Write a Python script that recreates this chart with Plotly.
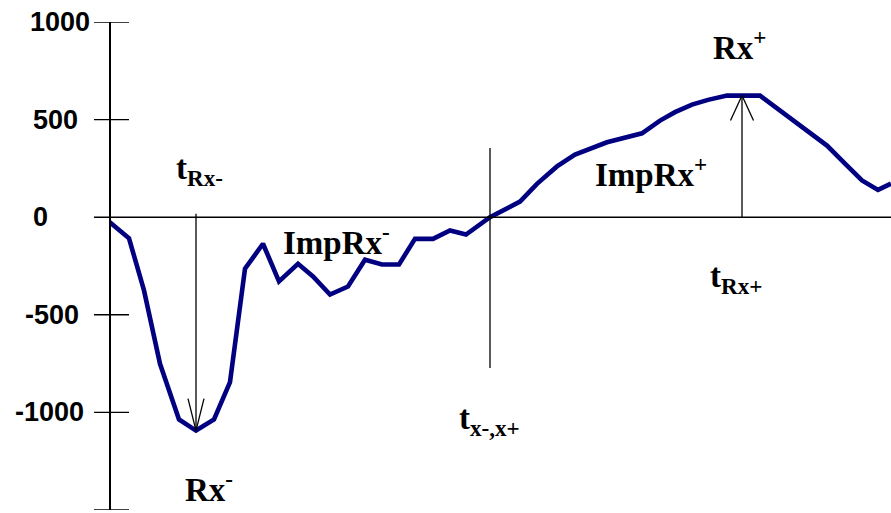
import plotly.graph_objects as go

# ---- data ----
t = [-2, 18, 33, 49, 68, 85, 103, 119, 134, 152, 168, 187, 202, 219, 237, 254, 271, 288,
     304, 322, 339, 355, 379, 409, 426, 446, 464, 479, 496, 531, 549, 564, 581, 597, 616,
     649, 676, 697, 716, 734, 751, 767, 780]
rx = [-22, -108, -375, -751, -1036, -1093, -1036, -845, -264, -136, -329, -239, -304, -396,
      -355, -218, -242, -242, -111, -111, -68, -89, 0, 80, 171, 260, 321, 350, 384, 430,
      495, 538, 577, 601, 623, 623, 521, 435, 367, 274, 188, 140, 172]

tick_vals = [1000, 500, 0, -500, -1000, -1500]
tick_text = ["1000", "500", "0", "-500", "-1000", ""]

t_min = 85          # time of Rx-
v_min = -1093       # Rx-
t_cross = 379       # t x-,x+
t_peak = 631        # time of Rx+
v_peak = 623        # Rx+

# ---- layout constants ----
W, H = 891, 513
ML, MR, MT, MB = 111, 0, 22, 3
X_RANGE = [0, 780]
Y_RANGE = [-1500, 1000]
PLOT_W = W - ML - MR
label_centers_px = [60, 55, 40, 52, 49, 0]   # tick label centers (page px)

NAVY = "#000080"
SERIF = "Liberation Serif, Times New Roman, serif"
SANS = "Liberation Sans, Arial, sans-serif"

fig = go.Figure()
fig.add_trace(go.Scatter(x=t, y=rx, mode="lines",
                         line=dict(color=NAVY, width=4.6), hoverinfo="skip"))

def px2paper(px):
    return (px - ML) / PLOT_W

shapes = []
# zero line extending left of the axis
shapes.append(dict(type="line", xref="paper", yref="y", x0=px2paper(94), x1=1, y0=0, y1=0,
                   line=dict(color="black", width=1.4)))
# crossing tick marks
for v in tick_vals:
    if v == 0:
        continue
    shapes.append(dict(type="line", xref="paper", yref="y", x0=px2paper(94), x1=px2paper(129),
                       y0=v, y1=v, line=dict(color="black", width=1.4)))
# vertical marker lines
shapes.append(dict(type="line", xref="x", yref="y", x0=t_min, x1=t_min, y0=18, y1=v_min,
                   line=dict(color="black", width=1.3)))
shapes.append(dict(type="line", xref="x", yref="y", x0=t_cross, x1=t_cross, y0=354, y1=-773,
                   line=dict(color="black", width=1.3)))
shapes.append(dict(type="line", xref="x", yref="y", x0=t_peak, x1=t_peak, y0=0, y1=v_peak,
                   line=dict(color="black", width=1.3)))
# arrow heads (open V), in pixel offsets from the tips
for dx in (-8, 8):
    shapes.append(dict(type="line", xref="x", yref="y", xsizemode="pixel", ysizemode="pixel",
                       xanchor=t_min, yanchor=v_min, x0=dx, y0=32, x1=0, y1=0,
                       line=dict(color="black", width=1.3)))
for dx in (-11.5, 11.5):
    shapes.append(dict(type="line", xref="x", yref="y", xsizemode="pixel", ysizemode="pixel",
                       xanchor=t_peak, yanchor=v_peak, x0=dx, y0=-25, x1=0, y1=0,
                       line=dict(color="black", width=1.3)))

annotations = []
for v, txt, cx in zip(tick_vals, tick_text, label_centers_px):
    if not txt:
        continue
    annotations.append(dict(xref="paper", yref="y", x=0, y=v, xshift=cx - ML, text=f"<b>{txt}</b>",
                            showarrow=False, xanchor="center", yanchor="middle",
                            font=dict(family=SANS, size=27, color="black")))

labels = [
    ("t<sub>Rx-</sub>", 88, 240),
    ("ImpRx<sup>-</sup>", 225, -117),
    ("Rx<sup>-</sup>", 98, -1383),
    ("t<sub>x-,x+</sub>", 378, -1040),
    ("Rx<sup>+</sup>", 629, 882),
    ("ImpRx<sup>+</sup>", 540, 231),
    ("t<sub>Rx+</sub>", 625, -312),
]
for txt, x, y in labels:
    annotations.append(dict(xref="x", yref="y", x=x, y=y, text=f"<b>{txt}</b>", showarrow=False,
                            xanchor="center", yanchor="middle",
                            font=dict(family=SERIF, size=33, color="black")))

fig.update_layout(
    width=W, height=H,
    margin=dict(l=ML, r=MR, t=MT, b=MB, pad=0),
    paper_bgcolor="white", plot_bgcolor="white",
    showlegend=False,
    xaxis=dict(range=X_RANGE, showgrid=False, zeroline=False, showline=False,
               showticklabels=False, ticks=""),
    yaxis=dict(range=Y_RANGE, showgrid=False, zeroline=False, showline=True,
               linecolor="black", linewidth=2, showticklabels=False, ticks=""),
    shapes=shapes,
    annotations=annotations,
)

fig.write_html("out.html", config={"displayModeBar": False},
               post_script="document.body.style.margin='0';document.body.style.overflow='hidden';")
